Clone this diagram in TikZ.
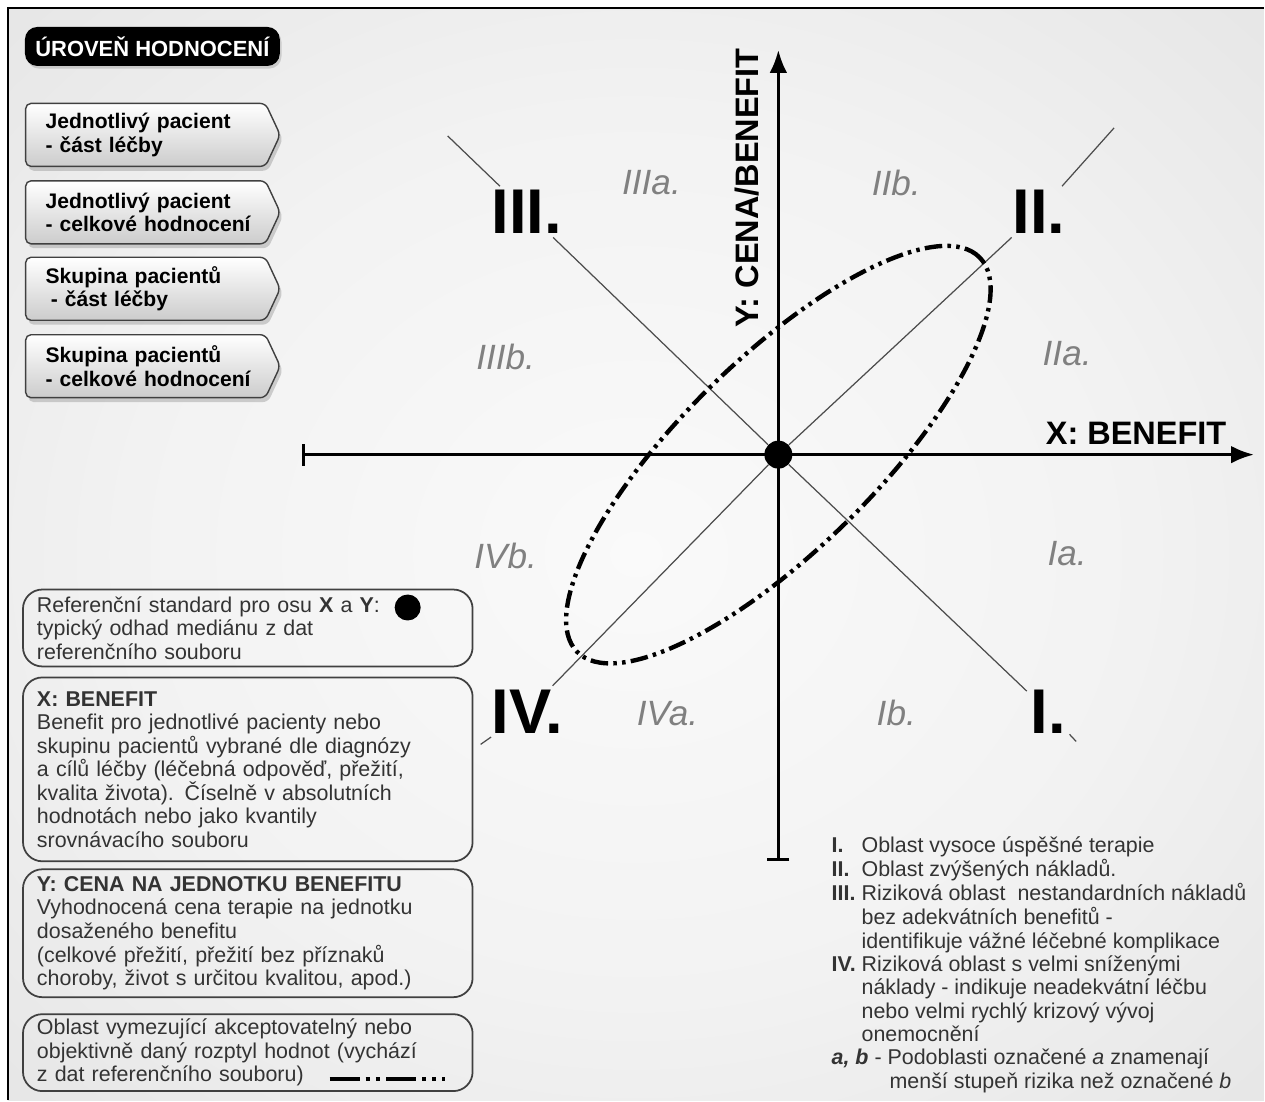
\documentclass[tikz,border=0pt]{standalone}
\usepackage{fontspec}
\setmainfont{Liberation Sans}
\usetikzlibrary{arrows.meta,shapes.symbols,shadows}
\pgfdeclareradialshading{paper}{\pgfpoint{0cm}{0cm}}{%
    color(0bp)=(black!2); color(20bp)=(black!5); color(40bp)=(black!11); color(50bp)=(black!15)}

\begin{document}
\begin{tikzpicture}[
        every node/.style={inner sep=2pt},
        titlebox/.style={
            rectangle, rounded corners=7pt, fill=black, text=white,
            minimum width=5.1cm, minimum height=0.78cm,
            drop shadow={shadow xshift=1pt, shadow yshift=-1.5pt, opacity=0.3},
            font=\fontsize{12.5}{14}\selectfont\bfseries
        },
        levelbox/.style={
            signal, signal to=east, signal pointer angle=130,
            draw=black!75, thick, rounded corners=3pt,
            top color=white, bottom color=black!20,
            drop shadow={shadow xshift=1.5pt, shadow yshift=-2.5pt, opacity=0.35},
            text width=4.0cm, align=left, inner xsep=0.4cm, inner ysep=0pt,
            minimum height=1.26cm,
            font=\fontsize{12}{13.2}\selectfont\bfseries
        },
        infobox/.style={
            rectangle, rounded corners=11pt, draw=black!75, line width=1pt,
            text=black!80, text width=8.44cm, align=left, inner xsep=0.28cm,
            font=\fontsize{12.2}{13.4}\selectfont
        },
        bignum/.style={font=\fontsize{36}{36}\selectfont\bfseries},
        subarea/.style={text=black!50, font=\fontsize{20}{20}\selectfont\itshape},
        axislabel/.style={font=\fontsize{18.5}{20}\selectfont\bfseries},
        refdot/.style={circle, fill=black, inner sep=0pt},
        axisline/.style={line width=1.7pt, {Bar[width=12.5pt]}-{Latex[length=13pt,width=10pt]}},
        diag/.style={draw=black!70, line width=0.7pt},
        spread/.style={line width=2.5pt, dash pattern=on 10pt off 3pt on 2pt off 3pt on 2pt off 3pt}
    ]

    % Fondo y marco
    \fill[white] (0,0) rectangle (25.3,-22.02);
    \shade[shading=paper] (0.16,-0.16) rectangle (25.3,-22.02);
    \draw[line width=1.2pt] (0.16,-22.02) -- (0.16,-0.16) -- (25.3,-0.16);
    \useasboundingbox (0,0) rectangle (25.3,-22.02);

    % Nivel de evaluacion
    \node[titlebox] (title) at (3.05,-0.93) {ÚROVEŇ HODNOCENÍ};
    \node[levelbox, anchor=west] (lev1) at (0.5,-2.70) {Jednotlivý pacient\\- část léčby};
    \node[levelbox, anchor=west] (lev2) at (0.5,-4.25) {Jednotlivý pacient\\\mbox{- celkové hodnocení}};
    \node[levelbox, anchor=west] (lev3) at (0.5,-5.78) {Skupina pacientů\\\hspace{3pt}- část léčby};
    \node[levelbox, anchor=west] (lev4) at (0.5,-7.33) {Skupina pacientů\\\mbox{- celkové hodnocení}};

    % Ejes
    \coordinate (xl) at (6.04,-9.10);
    \coordinate (xr) at (25.10,-9.10);
    \coordinate (yb) at (15.58,-17.24);
    \coordinate (yt) at (15.58,-1.00);
    \node[refdot, minimum size=0.56cm] (o) at (15.58,-9.10) {};
    \draw[axisline] (xl) -- (xr);
    \draw[axisline] (yb) -- (yt);
    \node[axislabel] (xlab) at (22.74,-8.68) {X: BENEFIT};
    \node[axislabel, rotate=90] (ylab) at (14.96,-3.76) {Y: CENA/BENEFIT};

    % Oblasti I--IV
    \node[bignum] (n1) at (20.98,-14.24) {I.};
    \node[bignum] (n2) at (20.80,-4.24)  {II.};
    \node[bignum] (n3) at (10.54,-4.24)  {III.};
    \node[bignum] (n4) at (10.56,-14.24) {IV.};
    \coordinate (e1) at (21.54,-14.84);
    \coordinate (e2) at (22.30,-2.56);
    \coordinate (e3) at (8.96,-2.72);
    \coordinate (e4) at (9.62,-14.90);
    \draw[diag] (e3) -- (n3);
    \draw[diag] (n3) -- (o);
    \draw[diag] (o) -- (n1);
    \draw[diag] (n1) -- (e1);
    \draw[diag] (e2) -- (n2);
    \draw[diag] (n2) -- (o);
    \draw[diag] (o) -- (n4);
    \draw[diag] (n4) -- (e4);

    % Rozptyl
    \draw[spread, rotate around={44.4:(o)}] (o) ellipse [x radius=5.64, y radius=1.92];

    % Podoblasti
    \node[subarea] (s3a) at (13.04,-3.66)  {IIIa.};
    \node[subarea] (s2b) at (17.94,-3.66)  {IIb.};
    \node[subarea] (s3b) at (10.12,-7.14)  {IIIb.};
    \node[subarea] (s2a) at (21.36,-7.08)  {IIa.};
    \node[subarea] (s4b) at (10.12,-11.12) {IVb.};
    \node[subarea] (s1a) at (21.36,-11.08) {Ia.};
    \node[subarea] (s4a) at (13.36,-14.28) {IVa.};
    \node[subarea] (s1b) at (17.94,-14.28) {Ib.};

    % Vysvetlivky vlevo
    \node[infobox, minimum height=1.54cm] (refbox) at (4.96,-12.57)
        {Referenční standard pro osu \textbf{X} a \textbf{Y}:\\typický odhad mediánu z dat\\referenčního souboru};
    \node[refdot, minimum size=0.52cm] (refmark) at (8.16,-12.16) {};
    \node[infobox, minimum height=3.68cm] (xbox) at (4.96,-15.40)
        {\textbf{X: BENEFIT}\\Benefit pro jednotlivé pacienty nebo\\skupinu pacientů vybrané dle diagnózy\\a cílů léčby (léčebná odpověď, přežití,\\kvalita života). Číselně v absolutních\\hodnotách nebo jako kvantily\\srovnávacího souboru};
    \node[infobox, minimum height=2.56cm] (ybox) at (4.96,-18.68)
        {\textbf{Y: CENA NA JEDNOTKU BENEFITU}\\Vyhodnocená cena terapie na jednotku\\dosaženého benefitu\\(celkové přežití, přežití bez příznaků\\choroby, život s určitou kvalitou, apod.)};
    \node[infobox, minimum height=1.54cm] (spreadbox) at (4.96,-21.07)
        {Oblast vymezující akceptovatelný nebo\\objektivně daný rozptyl hodnot (vychází\\z dat referenčního souboru)};
    \coordinate (sl) at (6.6,-21.6);
    \coordinate (sr) at (8.9,-21.6);
    \draw[spread, dash pattern=on 17pt off 3.5pt on 2.3pt off 3.5pt on 2.3pt off 3.5pt] (sl) -- (sr);

    % Vysvetlivky vpravo
    \node[anchor=north west, inner sep=0pt, text=black!80, font=\fontsize{12.2}{13.3}\selectfont] (legend) at (16.64,-16.72) {%
        \begin{tabular}{@{}p{0.6cm}@{}l@{}}
        \textbf{I.}   & Oblast vysoce úspěšné terapie\\
        \textbf{II.}  & Oblast zvýšených nákladů.\\
        \textbf{III.} & Riziková oblast \ nestandardních nákladů\\
                      & bez adekvátních benefitů -\\
                      & identifikuje vážné léčebné komplikace\\
        \textbf{IV.}  & Riziková oblast s velmi sníženými\\
                      & náklady - indikuje neadekvátní léčbu\\
                      & nebo velmi rychlý krizový vývoj\\
                      & onemocnění\\
        \multicolumn{2}{@{}l@{}}{\textbf{\textit{a, b}} - Podoblasti označené \textit{a} znamenají}\\
        \multicolumn{2}{@{}l@{}}{\hspace{1.16cm}menší stupeň rizika než označené \textit{b}}
        \end{tabular}};

\end{tikzpicture}
\end{document}
